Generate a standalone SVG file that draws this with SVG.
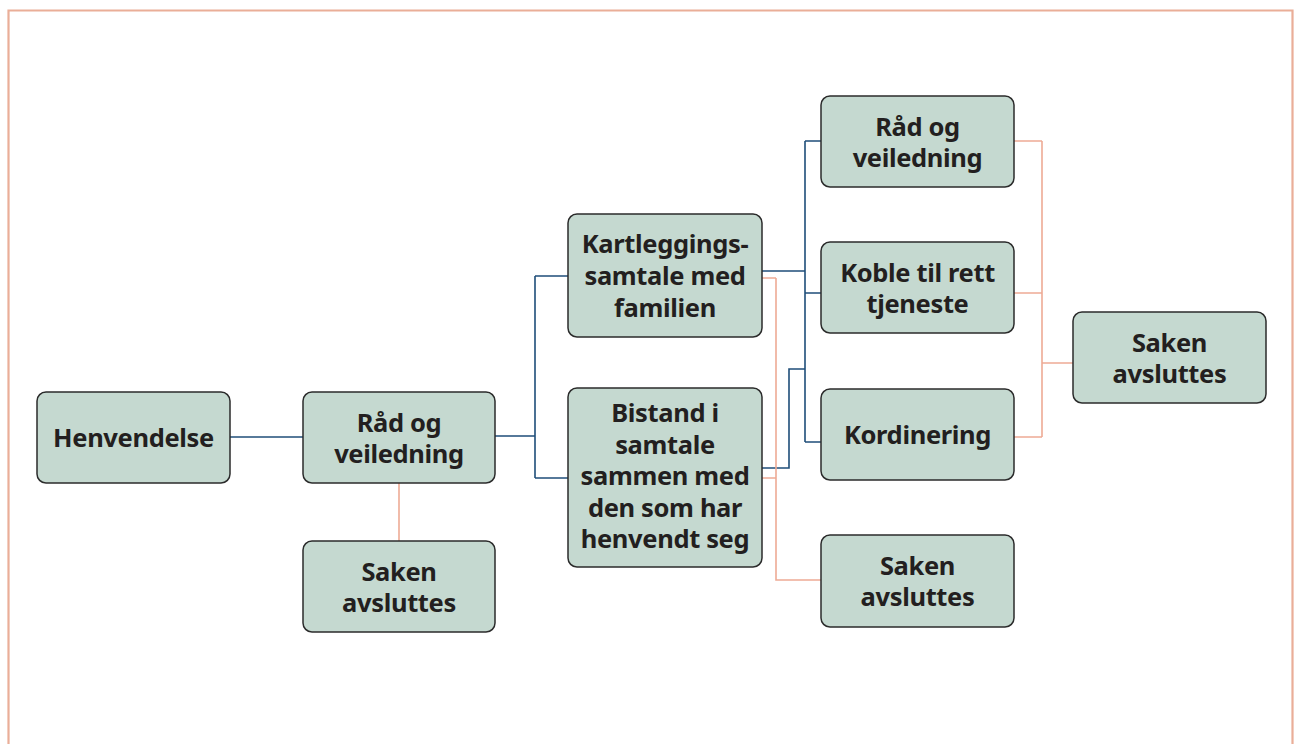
<svg xmlns="http://www.w3.org/2000/svg" width="1294" height="744" viewBox="0 0 1294 744">
<style>
.box{fill:#c5d9d0;stroke:#2b2b2b;stroke-width:1.5}
.t{font-family:"Noto Sans","Open Sans","Liberation Sans",sans-serif;font-weight:700;font-size:25.5px;fill:#231f20;text-anchor:middle;letter-spacing:-0.35px}
.blue{fill:none;stroke:#1f4e79;stroke-width:1.6}
.sal{fill:none;stroke:#eeab95;stroke-width:1.6}
</style>
<rect width="1294" height="744" fill="#ffffff"/>
<path d="M8.5 760 V10.5 H1292.5 V760" fill="none" stroke="#eaae98" stroke-width="2.2"/>
<g id="connectors">
<path class="blue" d="M230 437 H303"/>
<path class="blue" d="M495 436 H535 M535 276 V478 M535 276 H568 M535 478 H568"/>
<path class="blue" d="M762 271 H805 M805 141 V442 M805 141 H821 M805 293 H821 M805 442 H821"/>
<path class="blue" d="M762 468 H789 V369 H805"/>
<path class="sal" d="M399 483 V541"/>
<path class="sal" d="M762 278 H776 M776 278 V580 H821 M762 478 H776"/>
<path class="sal" d="M1014 141 H1042 M1014 293 H1042 M1014 437 H1042 M1042 141 V437 M1042 363 H1073"/>
</g>
<g id="henvendelse"><rect class="box" x="37" y="392" width="193" height="91" rx="9"/><text class="t" x="133.5" y="447">Henvendelse</text></g>
<g id="rad1"><rect class="box" x="303" y="392" width="192" height="91" rx="9"/><text class="t" x="399" y="432">Råd og</text><text class="t" x="399" y="463">veiledning</text></g>
<g id="saken1"><rect class="box" x="303" y="541" width="192" height="91" rx="9"/><text class="t" x="399" y="581">Saken</text><text class="t" x="399" y="612">avsluttes</text></g>
<g id="kartlegging"><rect class="box" x="568" y="214" width="194" height="123" rx="9"/><text class="t" x="665" y="253">Kartleggings-</text><text class="t" x="665" y="285">samtale med</text><text class="t" x="665" y="317">familien</text></g>
<g id="bistand"><rect class="box" x="568" y="388" width="194" height="179" rx="9"/><text class="t" x="665" y="422">Bistand i</text><text class="t" x="665" y="453.5">samtale</text><text class="t" x="665" y="485">sammen med</text><text class="t" x="665" y="516.5">den som har</text><text class="t" x="665" y="548">henvendt seg</text></g>
<g id="rad2"><rect class="box" x="821" y="96" width="193" height="91" rx="9"/><text class="t" x="917.5" y="136">Råd og</text><text class="t" x="917.5" y="167">veiledning</text></g>
<g id="koble"><rect class="box" x="821" y="242" width="193" height="91" rx="9"/><text class="t" x="917.5" y="282">Koble til rett</text><text class="t" x="917.5" y="313">tjeneste</text></g>
<g id="kordinering"><rect class="box" x="821" y="389" width="193" height="91" rx="9"/><text class="t" x="917.5" y="444">Kordinering</text></g>
<g id="saken2"><rect class="box" x="821" y="535" width="193" height="92" rx="9"/><text class="t" x="917.5" y="575">Saken</text><text class="t" x="917.5" y="606">avsluttes</text></g>
<g id="saken3"><rect class="box" x="1073" y="312" width="193" height="91" rx="9"/><text class="t" x="1169.5" y="352">Saken</text><text class="t" x="1169.5" y="383">avsluttes</text></g>
</svg>
